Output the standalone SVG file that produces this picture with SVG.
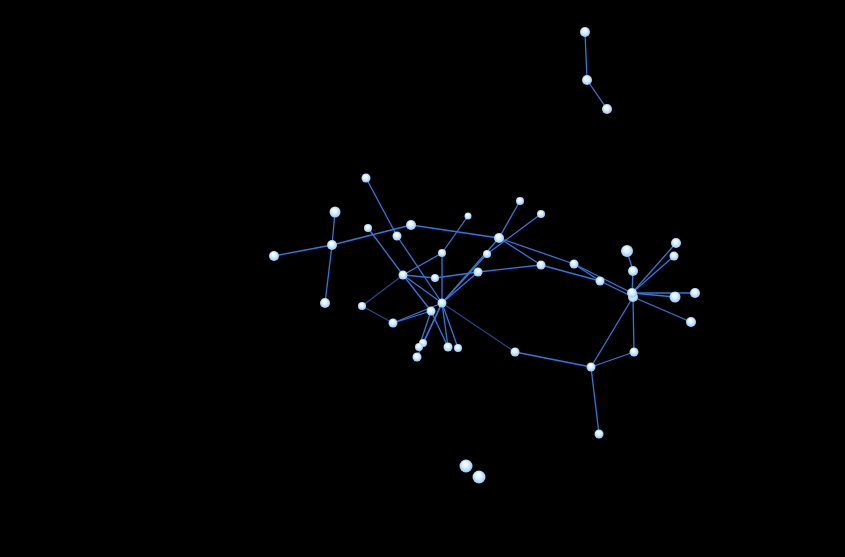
<svg xmlns="http://www.w3.org/2000/svg" width="845" height="557" viewBox="0 0 845 557">
<defs>
<radialGradient id="g" cx="0.5" cy="0.5" r="0.55" fx="0.42" fy="0.28">
<stop offset="0" stop-color="#ffffff"/>
<stop offset="0.4" stop-color="#e2f5ff"/>
<stop offset="1" stop-color="#8cc6f2"/>
</radialGradient>
<style>
.e{stroke:#3177e0;stroke-width:1.3;fill:none}
.d{stroke:#1d4a98;stroke-width:1.2;fill:none}
.n{fill:url(#g)}
</style>
</defs>
<rect width="845" height="557" fill="#000"/>
<g id="edges">
<line class="e" x1="585" y1="32" x2="587" y2="80"/>
<line class="e" x1="587" y1="80" x2="607" y2="109"/>
<line class="e" x1="335" y1="212" x2="332" y2="245"/>
<line class="e" x1="274" y1="256" x2="332" y2="245"/>
<line class="e" x1="332" y1="245" x2="325" y2="303"/>
<line class="e" x1="332" y1="245" x2="411" y2="225"/>
<line class="e" x1="411" y1="225" x2="499" y2="238"/>
<line class="e" x1="366" y1="178" x2="397" y2="236"/>
<line class="e" x1="397" y1="236" x2="442" y2="303"/>
<line class="e" x1="368" y1="228" x2="403" y2="275"/>
<line class="e" x1="468" y1="216" x2="442" y2="253"/>
<line class="e" x1="442" y1="253" x2="403" y2="275"/>
<line class="e" x1="442" y1="253" x2="442" y2="303"/>
<line class="e" x1="403" y1="275" x2="435" y2="278"/>
<line class="e" x1="435" y1="278" x2="478" y2="272"/>
<line class="e" x1="403" y1="275" x2="442" y2="303"/>
<line class="e" x1="403" y1="275" x2="431" y2="311"/>
<line class="d" x1="403" y1="275" x2="362" y2="306"/>
<line class="d" x1="362" y1="306" x2="393" y2="323"/>
<line class="e" x1="393" y1="323" x2="431" y2="311"/>
<line class="e" x1="393" y1="323" x2="442" y2="303"/>
<line class="e" x1="442" y1="303" x2="478" y2="272"/>
<line class="e" x1="442" y1="303" x2="487" y2="254"/>
<line class="e" x1="442" y1="303" x2="499" y2="238"/>
<line class="d" x1="442" y1="303" x2="515" y2="352"/>
<line class="e" x1="442" y1="303" x2="423" y2="343"/>
<line class="e" x1="442" y1="303" x2="417" y2="357"/>
<line class="e" x1="431" y1="311" x2="419" y2="347"/>
<line class="e" x1="431" y1="311" x2="448" y2="347"/>
<line class="e" x1="442" y1="303" x2="448" y2="347"/>
<line class="e" x1="442" y1="303" x2="458" y2="348"/>
<line class="e" x1="520" y1="201" x2="499" y2="238"/>
<line class="e" x1="541" y1="214" x2="487" y2="254"/>
<line class="e" x1="478" y1="272" x2="541" y2="265"/>
<line class="e" x1="499" y1="238" x2="541" y2="265"/>
<line class="e" x1="499" y1="238" x2="574" y2="264"/>
<line class="e" x1="541" y1="265" x2="600" y2="281"/>
<line class="e" x1="574" y1="264" x2="632" y2="293"/>
<line class="e" x1="574" y1="264" x2="600" y2="281"/>
<line class="e" x1="600" y1="281" x2="633" y2="297"/>
<line class="e" x1="627" y1="251" x2="633" y2="271"/>
<line class="e" x1="633" y1="271" x2="632" y2="293"/>
<line class="e" x1="632" y1="293" x2="676" y2="243"/>
<line class="e" x1="632" y1="293" x2="674" y2="256"/>
<line class="e" x1="632" y1="293" x2="675" y2="297"/>
<line class="e" x1="632" y1="293" x2="695" y2="293"/>
<line class="e" x1="633" y1="297" x2="691" y2="322"/>
<line class="e" x1="633" y1="297" x2="634" y2="352"/>
<line class="e" x1="633" y1="297" x2="591" y2="367"/>
<line class="e" x1="591" y1="367" x2="634" y2="352"/>
<line class="e" x1="591" y1="367" x2="515" y2="352"/>
<line class="e" x1="591" y1="367" x2="599" y2="434"/>
</g>
<g id="A1"><circle class="n" cx="585" cy="32" r="5"/></g>
<g id="A2"><circle class="n" cx="587" cy="80" r="5"/></g>
<g id="A3"><circle class="n" cx="607" cy="109" r="5"/></g>
<g id="P1"><circle class="n" cx="466" cy="466" r="6.5"/></g>
<g id="P2"><circle class="n" cx="479" cy="477" r="6.5"/></g>
<g id="N1"><circle class="n" cx="366" cy="178" r="4.5"/></g>
<g id="N2"><circle class="n" cx="335" cy="212" r="5.5"/></g>
<g id="N3"><circle class="n" cx="332" cy="245" r="5"/></g>
<g id="N4"><circle class="n" cx="274" cy="256" r="5"/></g>
<g id="N5"><circle class="n" cx="325" cy="303" r="5"/></g>
<g id="N6"><circle class="n" cx="368" cy="228" r="4"/></g>
<g id="N7"><circle class="n" cx="397" cy="236" r="4.5"/></g>
<g id="N8"><circle class="n" cx="411" cy="225" r="5"/></g>
<g id="N9"><circle class="n" cx="468" cy="216" r="3.5"/></g>
<g id="N10"><circle class="n" cx="442" cy="253" r="4"/></g>
<g id="N11"><circle class="n" cx="403" cy="275" r="4.5"/></g>
<g id="N12"><circle class="n" cx="435" cy="278" r="4"/></g>
<g id="N13"><circle class="n" cx="442" cy="303" r="4.5"/></g>
<g id="N14"><circle class="n" cx="431" cy="311" r="4.5"/></g>
<g id="N15"><circle class="n" cx="362" cy="306" r="4"/></g>
<g id="N16"><circle class="n" cx="393" cy="323" r="4.5"/></g>
<g id="B1"><circle class="n" cx="423" cy="343" r="4"/></g>
<g id="B2"><circle class="n" cx="419" cy="347" r="4"/></g>
<g id="B3"><circle class="n" cx="417" cy="357" r="4.5"/></g>
<g id="B4"><circle class="n" cx="448" cy="347" r="4.5"/></g>
<g id="B5"><circle class="n" cx="458" cy="348" r="4"/></g>
<g id="N19"><circle class="n" cx="478" cy="272" r="4.5"/></g>
<g id="N20"><circle class="n" cx="487" cy="254" r="4"/></g>
<g id="N21"><circle class="n" cx="499" cy="238" r="5"/></g>
<g id="N22"><circle class="n" cx="520" cy="201" r="4"/></g>
<g id="N23"><circle class="n" cx="541" cy="214" r="4"/></g>
<g id="N24"><circle class="n" cx="541" cy="265" r="4.5"/></g>
<g id="N25"><circle class="n" cx="574" cy="264" r="4.5"/></g>
<g id="N26"><circle class="n" cx="600" cy="281" r="4.5"/></g>
<g id="N27b"><circle class="n" cx="633" cy="297" r="5"/></g>
<g id="N27"><circle class="n" cx="632" cy="293" r="5"/></g>
<g id="N28"><circle class="n" cx="627" cy="251" r="6"/></g>
<g id="N29"><circle class="n" cx="633" cy="271" r="5"/></g>
<g id="N30"><circle class="n" cx="676" cy="243" r="5"/></g>
<g id="N31"><circle class="n" cx="674" cy="256" r="4.5"/></g>
<g id="N32"><circle class="n" cx="675" cy="297" r="5.5"/></g>
<g id="N33"><circle class="n" cx="695" cy="293" r="5"/></g>
<g id="N34"><circle class="n" cx="691" cy="322" r="5"/></g>
<g id="N35"><circle class="n" cx="634" cy="352" r="4.5"/></g>
<g id="N36"><circle class="n" cx="591" cy="367" r="4.5"/></g>
<g id="N37"><circle class="n" cx="515" cy="352" r="4.5"/></g>
<g id="N38"><circle class="n" cx="599" cy="434" r="4.5"/></g>
</svg>
